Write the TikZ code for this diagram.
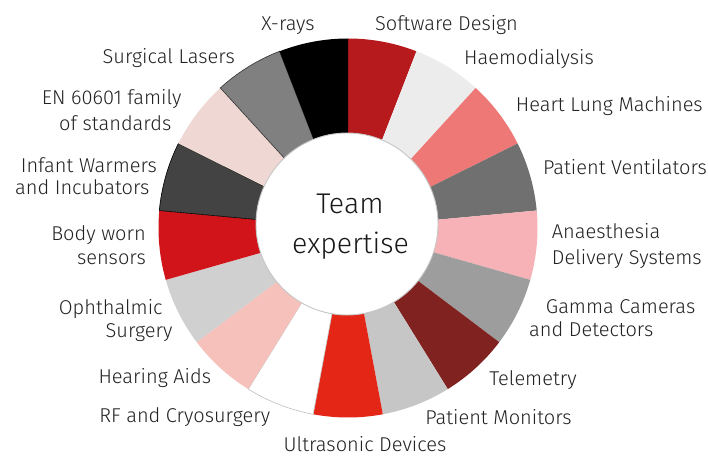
\documentclass[tikz,border=0pt]{standalone}
\usepackage{fontspec}
\setmainfont{Fira Sans Light}
\definecolor{txt}{HTML}{222222}
\definecolor{s1}{HTML}{B71A1C}
\definecolor{s2}{HTML}{ECECEC}
\definecolor{s3}{HTML}{EE7876}
\definecolor{s4}{HTML}{707070}
\definecolor{s5}{HTML}{F7B2B7}
\definecolor{s6}{HTML}{9D9D9D}
\definecolor{s7}{HTML}{80221F}
\definecolor{s8}{HTML}{C6C6C6}
\definecolor{s9}{HTML}{E42617}
\definecolor{s10}{HTML}{FFFFFF}
\definecolor{s11}{HTML}{F7C1BB}
\definecolor{s12}{HTML}{D0D0D0}
\definecolor{s13}{HTML}{D1141A}
\definecolor{s14}{HTML}{434343}
\definecolor{s15}{HTML}{EFD8D3}
\definecolor{s16}{HTML}{808080}
\definecolor{s17}{HTML}{000000}
\tikzset{
  lbl/.style={inner sep=0pt, text=txt, font=\fontsize{20}{24}\selectfont},
  ctr/.style={inner sep=0pt, text=black!90, font=\fontsize{28.5}{34}\selectfont},
}
\begin{document}
\begin{tikzpicture}[x=1pt,y=1pt]
\useasboundingbox (0,0) rectangle (708,455);
\fill[white] (0,0) rectangle (708,455);
\coordinate (c) at (348,227);
\def\R{189.5}
\def\st{21.17647}
\foreach \k/\col/\ol in {1/s1/none,2/s2/none,3/s3/none,4/s4/none,5/s5/none,6/s6/none,7/s7/none,8/s8/none,9/s9/none,10/s10/gray!50,11/s11/none,12/s12/none,13/s13/none,14/s14/black,15/s15/none,16/s16/black!80,17/s17/none}{
  \pgfmathsetmacro\aone{90-\st*(\k-1)}
  \pgfmathsetmacro\atwo{90-\st*\k}
  \filldraw[fill=\col, draw=\ol, line width=0.6pt] (c) -- ++(\aone:\R) arc[start angle=\aone, end angle=\atwo, radius=\R] -- cycle;
}
\node[circle, fill=white, draw=gray!45, line width=0.9pt, minimum size=182pt, inner sep=0pt] (hub) at (347,231) {};
\node[ctr, anchor=base] (team) at (350,241) {Team};
\node[ctr, anchor=base] (exp) at (350.5,201.7) {expertise};

\node[lbl, anchor=base] (xr) at (288,424.5) {X-rays};
\node[lbl, anchor=base] (sw) at (446.5,424.5) {Software Design};
\node[lbl, anchor=base] (hd) at (529,390.7) {Haemodialysis};
\node[lbl, anchor=base] (hl) at (609.3,343.3) {Heart Lung Machines};
\node[lbl, anchor=base] (pv) at (625,280) {Patient Ventilators};
\node[lbl, anchor=base west] (an1) at (551.7,216.7) {Anaesthesia};
\node[lbl, anchor=base west] (an2) at (551.7,190) {Delivery Systems};
\node[lbl, anchor=base west] (gc1) at (545.7,141.7) {Gamma Cameras};
\node[lbl, anchor=base west] (gc2) at (529,119) {and Detectors};
\node[lbl, anchor=base] (tm) at (533,69.5) {Telemetry};
\node[lbl, anchor=base] (pm) at (498.5,31) {Patient Monitors};
\node[lbl, anchor=base] (us) at (365,3.5) {Ultrasonic Devices};
\node[lbl, anchor=base] (rf) at (184.7,32.3) {RF and Cryosurgery};
\node[lbl, anchor=base] (ha) at (154.8,71.7) {Hearing Aids};
\node[lbl, anchor=base west] (op1) at (58.7,140.7) {Ophthalmic};
\node[lbl, anchor=base east] (op2) at (172.7,117.3) {Surgery};
\node[lbl, anchor=base east] (bw1) at (146,214) {Body worn};
\node[lbl, anchor=base east] (bw2) at (146,190.7) {sensors};
\node[lbl, anchor=base west] (iw1) at (20.7,282.7) {Infant Warmers};
\node[lbl, anchor=base west] (iw2) at (15,260) {and Incubators};
\node[lbl, anchor=base west] (en1) at (41.7,350) {EN 60601 family};
\node[lbl, anchor=base west] (en2) at (59,324) {of standards};
\node[lbl, anchor=base] (sl) at (168.7,391.7) {Surgical Lasers};
\end{tikzpicture}
\end{document}
